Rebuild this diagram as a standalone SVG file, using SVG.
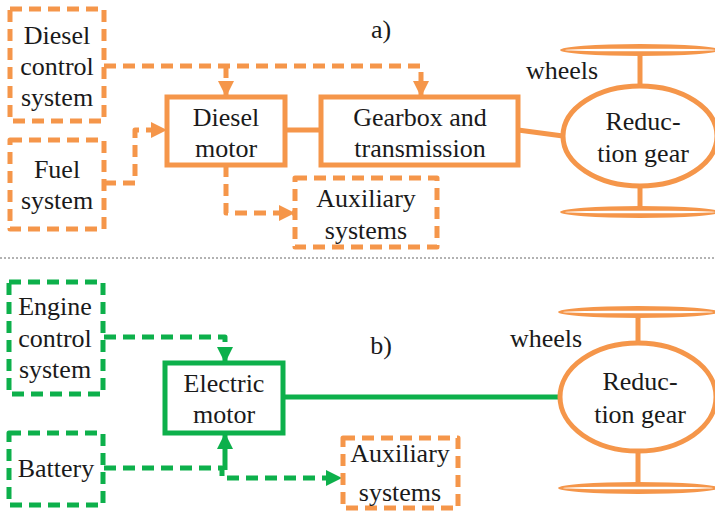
<svg xmlns="http://www.w3.org/2000/svg" width="715" height="516" viewBox="0 0 715 516">
<defs>
<style>
text{font-family:'Liberation Serif','DejaVu Serif',serif;font-size:26px;fill:#1a1a1a;text-anchor:middle}
.o{stroke:#F5964A;fill:none;stroke-width:5}
.g{stroke:#0DB04B;fill:none;stroke-width:5}
.d{stroke-dasharray:12 7;stroke-linejoin:round}
.boxs{fill:#fff}
.wo{fill:#F5964A}
.wi{fill:#fff}
</style>
<marker id="ao" markerUnits="userSpaceOnUse" markerWidth="18" markerHeight="18" refX="15" refY="8" orient="auto"><path d="M0,0 L16,8 L0,16 Z" fill="#F5964A"/></marker>
<marker id="ag" markerUnits="userSpaceOnUse" markerWidth="18" markerHeight="18" refX="15" refY="8" orient="auto"><path d="M0,0 L16,8 L0,16 Z" fill="#0DB04B"/></marker>
</defs>
<rect width="715" height="516" fill="#fff"/>
<line x1="0" y1="258" x2="715" y2="258" stroke="#666" stroke-width="1" stroke-dasharray="2 2"/>

<g id="connectors">
<path class="o d" d="M104,66 H421 V96" marker-end="url(#ao)"/>
<path class="o d" d="M226,66 V96" marker-end="url(#ao)"/>
<path class="o d" d="M104,183 H135 V130 H166" marker-end="url(#ao)"/>
<path class="o d" d="M226,165 V213 H294" marker-end="url(#ao)"/>
<line class="o" x1="285" y1="130" x2="321" y2="130"/>
<line class="o" x1="518" y1="130" x2="563" y2="136"/>
<line class="o" x1="640" y1="54" x2="640" y2="86"/>
<line class="o" x1="640" y1="185" x2="640" y2="208"/>
<path class="g d" d="M104,337 H225 V362" marker-end="url(#ag)"/>
<path class="g d" d="M104,468 H222 V478 H341" marker-end="url(#ag)"/>
<path class="g" d="M225,470 V434" marker-end="url(#ag)"/>
<line class="g" x1="283" y1="397" x2="560" y2="397"/>
<line class="o" x1="638" y1="316" x2="638" y2="343"/>
<line class="o" x1="638" y1="451" x2="638" y2="484"/>
</g>

<g id="label-a"><text x="381" y="38">a)</text></g>
<g id="label-b"><text x="381" y="354">b)</text></g>

<g id="diesel-control"><rect class="o d boxs" x="10" y="9" width="94" height="112"/><text x="57" y="44">Diesel</text><text x="57" y="75">control</text><text x="57" y="106">system</text></g>
<g id="fuel-system"><rect class="o d boxs" x="10" y="140" width="94" height="89"/><text x="57" y="178">Fuel</text><text x="57" y="209">system</text></g>
<g id="diesel-motor"><rect class="o boxs" x="167" y="97" width="118" height="68"/><text x="226" y="126">Diesel</text><text x="226" y="157">motor</text></g>
<g id="gearbox"><rect class="o boxs" x="321" y="97" width="197" height="68"/><text x="420" y="126">Gearbox and</text><text x="420" y="157">transmission</text></g>
<g id="aux-a"><rect class="o d boxs" x="295" y="178" width="142" height="69"/><text x="366" y="207">Auxiliary</text><text x="366" y="239">systems</text></g>
<g id="reduction-a"><ellipse class="o boxs" cx="640" cy="136" rx="77" ry="50"/><text x="643" y="130">Reduc-</text><text x="643" y="162">tion gear</text></g>
<g id="wheels-a">
<ellipse class="wo" cx="640" cy="50" rx="80" ry="6"/><ellipse class="wi" cx="640" cy="50" rx="75" ry="1.3"/>
<ellipse class="wo" cx="640" cy="212" rx="80" ry="6"/><ellipse class="wi" cx="640" cy="212" rx="75" ry="1.3"/>
<text x="562" y="79">wheels</text></g>

<g id="engine-control"><rect class="g d boxs" x="9" y="282" width="94" height="112"/><text x="55" y="315">Engine</text><text x="55" y="347">control</text><text x="55" y="378">system</text></g>
<g id="battery"><rect class="g d boxs" x="9" y="433" width="94" height="72"/><text x="56" y="477">Battery</text></g>
<g id="electric-motor"><rect class="g boxs" x="165" y="363" width="118" height="70"/><text x="224" y="392">Electric</text><text x="224" y="423">motor</text></g>
<g id="aux-b"><rect class="o d boxs" x="343" y="438" width="115" height="70"/><text x="400" y="462">Auxiliary</text><text x="400" y="501">systems</text></g>
<g id="reduction-b"><ellipse class="o boxs" cx="638" cy="397" rx="78" ry="54"/><text x="640" y="390">Reduc-</text><text x="640" y="423">tion gear</text></g>
<g id="wheels-b">
<ellipse class="wo" cx="638" cy="312" rx="80" ry="6"/><ellipse class="wi" cx="638" cy="312" rx="75" ry="1.3"/>
<ellipse class="wo" cx="638" cy="488" rx="80" ry="6"/><ellipse class="wi" cx="638" cy="488" rx="75" ry="1.3"/>
<text x="546" y="347">wheels</text></g>
</svg>
